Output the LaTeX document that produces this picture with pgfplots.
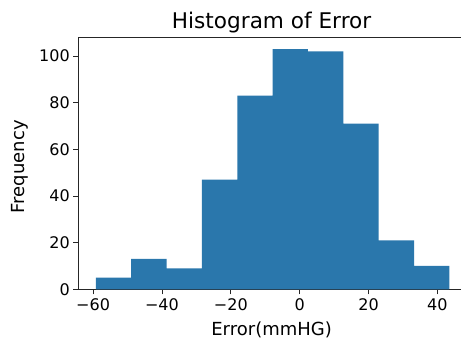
\documentclass[border=0pt]{standalone}
\usepackage{fontspec}
\setmainfont{DejaVu Sans}
\usepackage{pgfplots}
\pgfplotsset{compat=1.18}
\definecolor{barblue}{HTML}{2A77AC}

\begin{document}
\begin{tikzpicture}
\begin{axis}[
  scale only axis,
  width=386.6bp, height=252.3bp,
  xmin=-64.3, xmax=48.0,
  ymin=0, ymax=108.15,
  axis line style={black!85, line width=0.8bp},
  tick align=outside,
  xtick pos=left, ytick pos=left,
  major tick length=5bp,
  every tick/.style={black!85, line width=0.8bp},
  xtick={-60,-40,-20,0,20,40},
  xticklabels={−60,−40,−20,0,20,40},
  ytick={0,20,40,60,80,100},
  yticklabels={0,20,40,60,80,100},
  tick label style={font=\fontsize{16bp}{19bp}\selectfont, text=black},
  xticklabel style={anchor=base, yshift=-16.5bp},
  title={Histogram of Error},
  every axis title/.style={at={(axis description cs:0.5,1)}, anchor=base,
               yshift=8.7bp, font=\fontsize{21.6bp}{26bp}\selectfont, text=black},
  xlabel={Error(mmHG)},
  xlabel style={at={(axis description cs:0.5,0)}, anchor=base, yshift=-45.7bp,
                font=\fontsize{18bp}{22bp}\selectfont, text=black},
  ylabel={Frequency},
  ylabel style={at={(axis description cs:-0.1379,0.486)}, anchor=base,
                font=\fontsize{18bp}{22bp}\selectfont, text=black},
]
% histogram counts per bin (left edges; last row closes the final bin)
\addplot[ybar interval, fill=barblue, draw=none] table {
x        y
-59.20   5
-48.93   13
-38.66   9
-28.39   47
-18.12   83
-7.85    103
2.42     102
12.69    71
22.96    21
33.23    10
43.50    10
};
\end{axis}
\pgfresetboundingbox
\useasboundingbox ([shift={(-78.3bp,-50.7bp)}]current axis.south west)
  rectangle ([shift={(382.7bp,37bp)}]current axis.north west);
\end{tikzpicture}
\end{document}
